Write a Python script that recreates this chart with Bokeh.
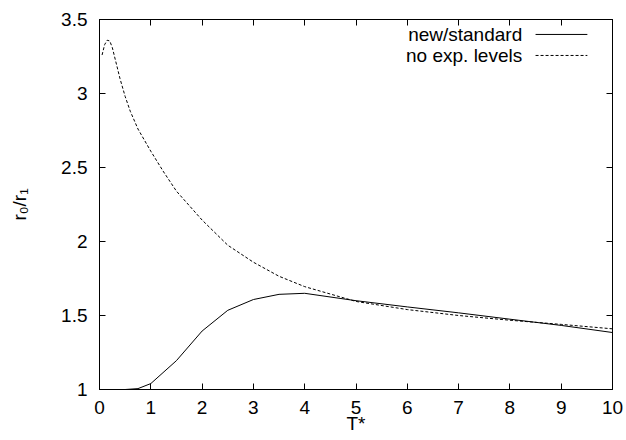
from bokeh.plotting import figure
from bokeh.models import (Range1d, FixedTicker, NumeralTickFormatter, LinearAxis,
                          CustomJSTickFormatter, Label)
from bokeh.embed import file_html
from bokeh.resources import INLINE

# ---- data ----
t_new = [0, 0.25, 0.5, 0.75, 1, 1.5, 2, 2.5, 3, 3.5, 4, 5, 6, 7, 8, 9, 10]
r_new = [1.0, 1.0, 1.0, 1.006, 1.04, 1.195, 1.395, 1.535, 1.608, 1.643, 1.65,
         1.6, 1.558, 1.518, 1.475, 1.433, 1.385]

t_noexp = [0.05, 0.1, 0.15, 0.2, 0.25, 0.3, 0.4, 0.5, 0.6, 0.75, 1, 1.25, 1.5,
           2, 2.5, 3, 3.5, 4, 5, 6, 7, 8, 9, 10]
r_noexp = [3.26, 3.33, 3.36, 3.355, 3.31, 3.24, 3.1, 2.98, 2.88, 2.76, 2.61,
           2.47, 2.34, 2.145, 1.975, 1.86, 1.765, 1.695, 1.595, 1.54, 1.50,
           1.468, 1.44, 1.41]

x_ticks = [0, 1, 2, 3, 4, 5, 6, 7, 8, 9, 10]
y_ticks = [1, 1.5, 2, 2.5, 3, 3.5]

series_names = ["new/standard", "no exp. levels"]
x_label = "T*"
y_label = "r\u2080/r\u2081"

FONT = "Liberation Sans"
FS = "19px"

p = figure(width=626, height=440, output_backend="svg", toolbar_location=None,
           x_range=Range1d(0, 10), y_range=Range1d(1, 3.5),
           min_border_left=99, min_border_right=14, min_border_top=19,
           min_border_bottom=51, x_axis_location=None, y_axis_location=None)
p.xgrid.visible = False
p.ygrid.visible = False
p.outline_line_color = "black"
p.outline_line_width = 1
p.background_fill_color = "white"
p.border_fill_color = "white"


def make_axis(ticks, labels=True):
    ax = LinearAxis(ticker=FixedTicker(ticks=ticks))
    ax.major_tick_in = 6
    ax.major_tick_out = 0
    ax.minor_tick_in = 0
    ax.minor_tick_out = 0
    ax.axis_line_color = "black"
    ax.major_tick_line_color = "black"
    if labels:
        ax.formatter = NumeralTickFormatter(format="0.[0]")
        ax.major_label_text_font = FONT
        ax.major_label_text_font_size = FS
        ax.major_label_text_color = "black"
        ax.axis_label_text_font = FONT
        ax.axis_label_text_font_size = FS
        ax.axis_label_text_font_style = "normal"
        ax.axis_label_text_color = "black"
    else:
        ax.formatter = CustomJSTickFormatter(code="return ''")
        ax.major_label_text_font_size = "1px"
        ax.major_label_standoff = 0
    return ax


bx = make_axis(x_ticks)
bx.major_label_standoff = 11
bx.axis_label = x_label
bx.axis_label_standoff = -4
lx = make_axis(y_ticks)
lx.major_label_standoff = 12
lx.axis_label = y_label
lx.axis_label_standoff = 28
tx = make_axis(x_ticks, labels=False)
rx = make_axis(y_ticks, labels=False)
p.add_layout(bx, "below")
p.add_layout(lx, "left")
p.add_layout(tx, "above")
p.add_layout(rx, "right")

# curves
p.line(t_new, r_new, line_color="black", line_width=1)
p.line(t_noexp, r_noexp, line_color="black", line_width=1, line_dash="3 2")

# legend (gnuplot style: label then sample)
leg_x_text = 8.24
leg_y = [3.399, 3.257]
leg_x0, leg_x1 = 8.50, 9.51
dashes = ["solid", "3 2"]
for name, yy, dash in zip(series_names, leg_y, dashes):
    p.add_layout(Label(x=leg_x_text, y=yy, text=name, text_align="right",
                       text_baseline="middle", text_font=FONT,
                       text_font_size=FS, text_color="black"))
    p.segment(x0=[leg_x0], y0=[yy], x1=[leg_x1], y1=[yy], line_color="black",
              line_width=1, line_dash=dash)

open("out.html", "w").write(file_html(p, INLINE))
